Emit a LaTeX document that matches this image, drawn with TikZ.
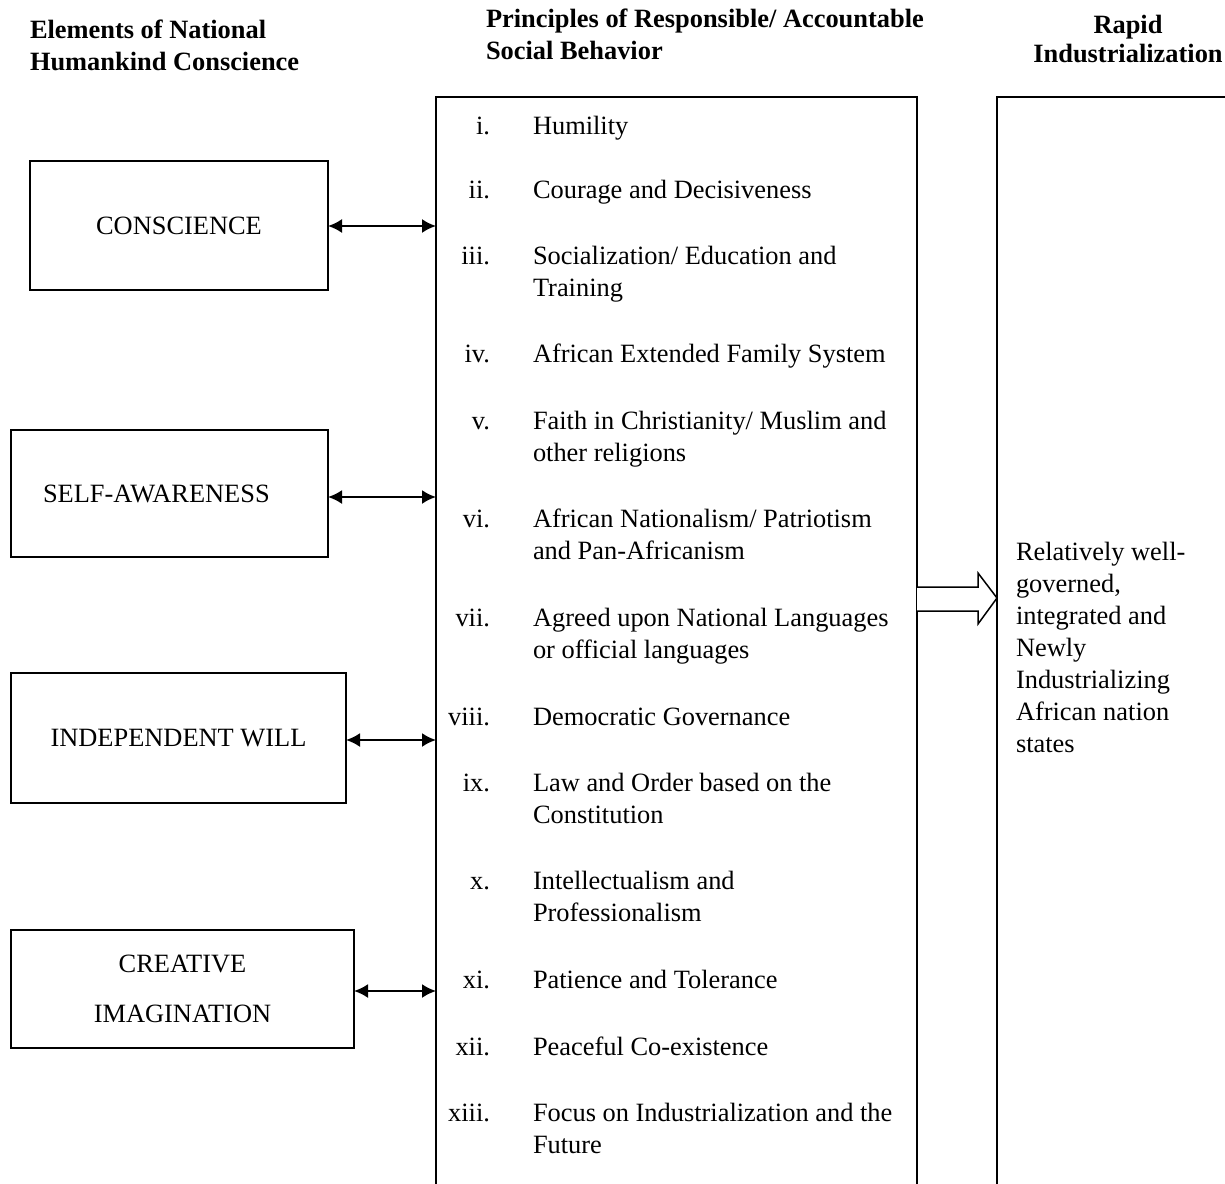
\documentclass[tikz,border=0pt]{standalone}
\usepackage{fontspec}
\setmainfont{Liberation Serif}
\usepackage{tikz}
\usetikzlibrary{arrows.meta}

\begin{document}
\begin{tikzpicture}[
    x=0.5pt, y=-0.5pt,
    every node/.style={
        font=\fontsize{13.2}{16}\selectfont,
        inner sep=0pt,
        outer sep=0pt
    },
    elembox/.style={draw, line width=0.75pt, align=center, anchor=north west},
    bigbox/.style={draw, line width=0.75pt, anchor=north west, minimum height=552pt},
    heading/.style={font=\bfseries\fontsize{13.2}{16}\selectfont, align=left, anchor=base west},
    listitem/.style={anchor=north west, align=left, yshift=11.2pt},
    twoway/.style={{Latex[length=7pt,width=7pt]}-{Latex[length=7pt,width=7pt]}, line width=1pt},
    fatarrow/.style={draw, line width=0.75pt, fill=white}
]
\useasboundingbox (0,0) rectangle (1225,1183);

% column headings
\node[heading] (hdrelem) at (30,70) {Elements of National\\Humankind Conscience};
\node[heading] (hdrprin) at (486,59) {Principles of Responsible/ Accountable\\Social Behavior};
\node[heading, anchor=base, align=center, font=\bfseries\fontsize{13.2}{14.5}\selectfont] (hdrrapid) at (1128,62) {Rapid\\Industrialization};

% elements
\node[elembox, minimum width=149pt, minimum height=64.5pt] (conscience) at (30,161) {CONSCIENCE};
\node[elembox, minimum width=158.5pt, minimum height=63.5pt, text width=126.5pt, inner xsep=16pt, align=left] (selfaware) at (11,430) {SELF-AWARENESS};
\node[elembox, minimum width=167.5pt, minimum height=65pt] (indwill) at (11,673) {INDEPENDENT WILL};
\node[elembox, minimum width=171.5pt, minimum height=59pt] (creative) at (11,930) {CREATIVE\\[9pt]IMAGINATION};

% principles and outcome
\node[bigbox, minimum width=240.5pt] (principles) at (436,97) {};
\node[bigbox, minimum width=140pt] (industry) at (997,97) {};

\foreach \yy/\rn/\txt [count=\k] in {
    134/i./Humility,
    198/ii./Courage and Decisiveness,
    264/iii./{Socialization/ Education and\\Training},
    362/iv./African Extended Family System,
    429/v./{Faith in Christianity/ Muslim and\\other religions},
    527/vi./{African Nationalism/ Patriotism\\and Pan-Africanism},
    626/vii./{Agreed upon National Languages\\or official languages},
    725/viii./Democratic Governance,
    791/ix./{Law and Order based on the\\Constitution},
    889/x./{Intellectualism and\\Professionalism},
    988/xi./Patience and Tolerance,
    1055/xii./Peaceful Co-existence,
    1121/xiii./{Focus on Industrialization and the\\Future}}
{
    \node[anchor=base east] (rn\k) at (490,\yy) {\rn};
    \node[listitem] (pr\k) at (533,\yy) {\strut\txt};
}

\node[anchor=base west, align=left] (outcome) at (1016,752)
    {Relatively well-\\governed,\\integrated and\\Newly\\Industrializing\\African nation\\states};

% connectors
\draw[twoway] (conscience.east |- 0,226) -- (principles.west |- 0,226);
\draw[twoway] (selfaware.east |- 0,497) -- (principles.west |- 0,497);
\draw[twoway] (indwill.east |- 0,740) -- (principles.west |- 0,740);
\draw[twoway] (creative.east |- 0,991) -- (principles.west |- 0,991);

\draw[fatarrow] (principles.east |- 0,587) -- (978,587) -- (978,573) -- (industry.west |- 0,598)
    -- (978,624) -- (978,611) -- (principles.east |- 0,611);

\end{tikzpicture}
\end{document}
